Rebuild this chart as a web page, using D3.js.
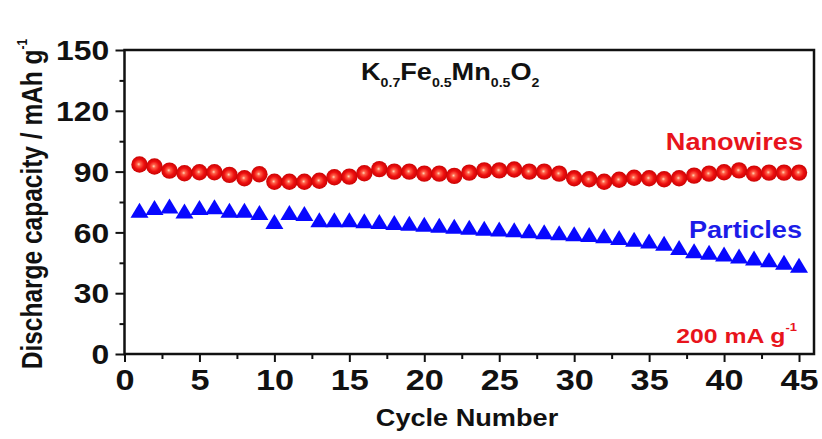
<!DOCTYPE html>
<html>
<head>
<meta charset="utf-8">
<script src="https://cdn.jsdelivr.net/npm/d3@7"></script>
<style>
  html, body { margin: 0; padding: 0; background: #fff; }
  svg { display: block; }
  text { font-family: "Liberation Sans", Arial, sans-serif; font-weight: bold; }
</style>
</head>
<body>
<svg id="chart" width="822" height="439"></svg>
<script>
// Cycle numbers and discharge capacities (mAh/g)
const cycles = d3.range(1, 46);
const nanowires = [93.5, 92.5, 90.5, 89.2, 89.7, 89.7, 88.4, 86.7, 88.7, 85,
                   85, 85, 85.5, 87.2, 87.5, 89.2, 91.2, 90, 90, 89,
                   89, 87.9, 89.5, 90.6, 90.6, 91, 90, 90, 89, 86.7,
                   86.2, 85, 86, 87, 86.7, 86.2, 86.7, 88, 89, 89.7,
                   90.6, 89, 89.5, 89.5, 89.5];
const particles = [70.9, 72.3, 73, 70.6, 72.3, 72.6, 70.9, 70.9, 69.8, 65.4,
                   69.8, 69.3, 66.2, 66.2, 66.2, 65.8, 65.4, 64.9, 64.5, 64,
                   63.5, 63, 62.5, 62, 61.7, 61.3, 60.8, 60.3, 59.8, 59.3,
                   59, 58.3, 57.5, 56.6, 55.7, 54.6, 52.5, 51, 50.2, 49.3,
                   48.3, 47.4, 46.5, 45.3, 43.8];
const xTicks = [0, 5, 10, 15, 20, 25, 30, 35, 40, 45];
const yTicks = [0, 30, 60, 90, 120, 150];

const svg = d3.select("#chart");
const plotL = 124.5, plotR = 814, plotT = 50, plotB = 354;
const sx = 1.18; // horizontal glyph stretch

const x = d3.scaleLinear().domain([0, 46]).range([plotL, plotR]);
const y = d3.scaleLinear().domain([0, 150]).range([plotB, plotT]);

// gradient for the shaded spheres
const defs = svg.append("defs");
const grad = defs.append("radialGradient").attr("id", "ball")
  .attr("cx", "50%").attr("cy", "50%").attr("r", "55%")
  .attr("fx", "45%").attr("fy", "48%");
grad.append("stop").attr("offset", "0%").attr("stop-color", "#ffd8b8");
grad.append("stop").attr("offset", "20%").attr("stop-color", "#ff6048");
grad.append("stop").attr("offset", "55%").attr("stop-color", "#ee0f0f");
grad.append("stop").attr("offset", "100%").attr("stop-color", "#c00000");

// axes
const yAxis = d3.axisLeft(y).tickValues(yTicks).tickSize(9).tickPadding(4).tickFormat(d3.format("d"));
const yMinor = d3.axisLeft(y).tickValues([15, 45, 75, 105, 135]).tickSize(5).tickFormat("");
const xAxis = d3.axisBottom(x).tickValues(xTicks).tickSize(8).tickPadding(7).tickFormat(d3.format("d"));
const xMinor = d3.axisBottom(x).tickValues([2.5, 7.5, 12.5, 17.5, 22.5, 27.5, 32.5, 37.5, 42.5]).tickSize(5).tickFormat("");

function styleAxis(g) {
  g.select(".domain").remove();
  g.selectAll(".tick line").attr("stroke", "#111").attr("stroke-width", 2);
}

svg.append("g").attr("transform", `translate(${plotL},0)`).call(yMinor).call(styleAxis);
const gy = svg.append("g").attr("transform", `translate(${plotL},0)`).call(yAxis).call(styleAxis);
gy.selectAll(".tick text").attr("font-size", 27).attr("fill", "#111")
  .attr("transform", `scale(${sx},1)`).attr("dy", "0.36em");

svg.append("g").attr("transform", `translate(0,${plotB})`).call(xMinor).call(styleAxis);
const gx = svg.append("g").attr("transform", `translate(0,${plotB})`).call(xAxis).call(styleAxis);
gx.selectAll(".tick text").attr("font-size", 29).attr("fill", "#111")
  .attr("transform", `scale(${sx},1)`);

// frame
svg.append("rect").attr("x", plotL).attr("y", plotT)
  .attr("width", plotR - plotL).attr("height", plotB - plotT)
  .attr("fill", "none").attr("stroke", "#111").attr("stroke-width", 2.5);

// particles: blue triangles
const tri = d3.symbol().type({ draw(ctx) {
  const w = 9, h = 7.5;
  ctx.moveTo(0, -h); ctx.lineTo(w, h); ctx.lineTo(-w, h); ctx.closePath();
}});
svg.append("g").selectAll("path").data(cycles).join("path")
  .attr("d", tri())
  .attr("transform", (c, i) => `translate(${x(c)},${y(particles[i])})`)
  .attr("fill", "#0808ff");

// nanowires: red spheres
svg.append("g").selectAll("circle").data(cycles).join("circle")
  .attr("cx", c => x(c)).attr("cy", (c, i) => y(nanowires[i]))
  .attr("r", 8.2).attr("fill", "url(#ball)");

// labels
function label(tx, ty, anchor, color, size) {
  return svg.append("text")
    .attr("transform", `translate(${tx},${ty}) scale(${sx},1)`)
    .attr("text-anchor", anchor).attr("fill", color).attr("font-size", size);
}

const formula = label(361, 80, "start", "#111", 23);
[["K", ""], ["0.7", "s"], ["Fe", ""], ["0.5", "s"], ["Mn", ""], ["0.5", "s"], ["O", ""], ["2", "s"]]
  .forEach(([t, k], i, arr) => {
    const prevSub = i > 0 && arr[i - 1][1] === "s";
    formula.append("tspan").text(t)
      .attr("font-size", k === "s" ? 12 : 23)
      .attr("dy", k === "s" ? 7 : (prevSub ? -7 : 0));
  });

label(803, 150, "end", "#e8141c", 23).text("Nanowires");
label(802, 238, "end", "#1c1ce8", 23).text("Particles");

const rate = label(797, 343, "end", "#e8141c", 21);
rate.append("tspan").text("200 mA g");
rate.append("tspan").text("-1").attr("font-size", 11).attr("dy", -12);

label(467, 426, "middle", "#111", 23).text("Cycle Number");

const yt = svg.append("text")
  .attr("transform", `translate(42,204) scale(${sx},1) rotate(-90)`)
  .attr("text-anchor", "middle").attr("fill", "#111").attr("font-size", 24.5);
yt.append("tspan").text("Discharge capacity / mAh g");
yt.append("tspan").text("-1").attr("font-size", 12).attr("dy", -13);
</script>
</body>
</html>
